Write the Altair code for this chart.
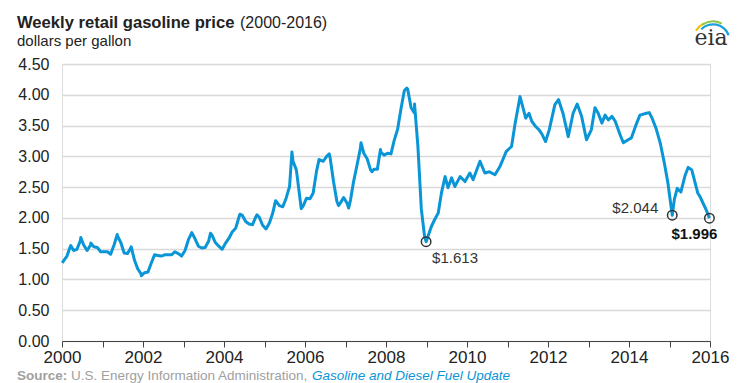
import altair as alt
import pandas as pd

# ---- data ----
# 2000-2008: mid-month readings plus weekly extremes
monthly = {
    2000: [1.30, 1.38, 1.53, 1.47, 1.49, 1.63, 1.56, 1.47, 1.56, 1.53, 1.52, 1.45],
    2001: [1.45, 1.45, 1.41, 1.56, 1.71, 1.60, 1.43, 1.42, 1.52, 1.32, 1.17, 1.09],
    2002: [1.11, 1.12, 1.26, 1.40, 1.39, 1.38, 1.40, 1.40, 1.40, 1.45, 1.42, 1.38],
    2003: [1.47, 1.65, 1.75, 1.66, 1.54, 1.51, 1.52, 1.62, 1.72, 1.60, 1.54, 1.49],
    2004: [1.59, 1.67, 1.77, 1.83, 2.01, 2.04, 1.94, 1.90, 1.89, 2.02, 2.01, 1.88],
    2005: [1.82, 1.92, 2.07, 2.27, 2.20, 2.18, 2.32, 2.51, 2.92, 2.78, 2.34, 2.19],
    2006: [2.32, 2.31, 2.40, 2.76, 2.94, 2.92, 3.00, 2.98, 2.59, 2.27, 2.24, 2.33],
    2007: [2.24, 2.29, 2.59, 2.86, 3.13, 3.05, 2.96, 2.78, 2.79, 2.79, 3.07, 3.02],
    2008: [3.05, 3.04, 3.26, 3.44, 3.77, 4.07, 4.09, 3.79, 3.70, 3.17, 2.15, 1.69],
}
extra_dates = [
    "2000-01-03", "2000-03-20", "2000-06-19", "2000-09-18", "2001-05-14",
    "2001-09-17", "2001-12-17", "2003-03-17", "2003-09-01", "2004-05-24",
    "2004-10-25", "2005-04-11", "2005-09-05", "2005-11-28", "2006-05-08",
    "2006-08-07", "2006-10-30", "2007-01-29", "2007-05-21", "2007-08-27",
    "2007-11-12", "2008-07-07", "2008-09-15", "2008-12-29",
]
extra_prices = [
    1.27, 1.55, 1.68, 1.59, 1.73,
    1.53, 1.06, 1.76, 1.75, 2.06,
    2.05, 2.28, 3.07, 2.15, 2.95,
    3.04, 2.20, 2.16, 3.22, 2.75,
    3.11, 4.11, 3.85, 1.613,
]
# 2009-2015: readings taken along the curve (decimal year, price)
late_t = [
    2009.12, 2009.20, 2009.29, 2009.37, 2009.46, 2009.53, 2009.62, 2009.70,
    2009.83, 2009.95, 2010.07, 2010.15, 2010.32, 2010.44, 2010.55, 2010.69,
    2010.81, 2010.97, 2011.10, 2011.19, 2011.31, 2011.45, 2011.53, 2011.60,
    2011.70, 2011.78, 2011.86, 2011.94, 2012.03, 2012.17, 2012.26, 2012.37,
    2012.50, 2012.62, 2012.72, 2012.83, 2012.95, 2013.07, 2013.16, 2013.24,
    2013.33, 2013.41, 2013.49, 2013.58, 2013.66, 2013.78, 2013.86, 2013.98,
    2014.06, 2014.19, 2014.27, 2014.43, 2014.50, 2014.57, 2014.67, 2014.77,
    2014.87, 2014.96, 2015.068, 2015.12, 2015.19, 2015.28, 2015.38, 2015.46,
    2015.55, 2015.62, 2015.70, 2015.75, 2015.82, 2015.90, 2015.986,
]
late_p = [
    1.86, 1.97, 2.08, 2.41, 2.67, 2.49, 2.65, 2.51,
    2.67, 2.59, 2.73, 2.62, 2.92, 2.73, 2.75, 2.70,
    2.83, 3.08, 3.16, 3.54, 3.97, 3.62, 3.70, 3.57,
    3.48, 3.43, 3.35, 3.24, 3.43, 3.84, 3.92, 3.70,
    3.32, 3.70, 3.85, 3.65, 3.27, 3.43, 3.79, 3.70,
    3.54, 3.67, 3.59, 3.65, 3.57, 3.35, 3.22, 3.27,
    3.30, 3.54, 3.67, 3.70, 3.71, 3.62, 3.45, 3.22,
    2.90, 2.57, 2.044, 2.30, 2.48, 2.42, 2.68, 2.82,
    2.78, 2.60, 2.40, 2.35, 2.25, 2.14, 1.996,
]
y_ticks = [0.0, 0.5, 1.0, 1.5, 2.0, 2.5, 3.0, 3.5, 4.0, 4.5]
x_ticks = list(range(2000, 2017))

# annotated points
ann_t = [2008.99, 2015.068, 2015.986]
ann_values = [1.613, 2.044, 1.996]
ann_labels = ["$1.613", "$2.044", "$1.996"]


def dec_year(ts):
    ts = pd.to_datetime(ts)
    days = 366 if ts.is_leap_year else 365
    return ts.year + (ts.dayofyear - 1) / days


# ---- build table ----
rows = []
for y, vals in monthly.items():
    for m, v in enumerate(vals, start=1):
        rows.append((dec_year(pd.Timestamp(year=y, month=m, day=15)), v))
for d, v in zip(extra_dates, extra_prices):
    rows.append((dec_year(d), v))
for t, v in zip(late_t, late_p):
    rows.append((t, v))
df = pd.DataFrame(rows, columns=["t", "price"]).sort_values("t")

ann = pd.DataFrame({"t": ann_t, "price": ann_values, "label": ann_labels})

FONT = "Liberation Sans"
BLUE = "#0a96d6"

xscale = alt.Scale(domain=[2000, 2016], nice=False, zero=False)
yscale = alt.Scale(domain=[0, 4.5], nice=False)

x_axis = alt.Axis(
    values=x_ticks, title=None, grid=False,
    labelExpr="datum.value % 2 == 0 ? format(datum.value, 'd') : ''",
    domainColor="#444", domainWidth=1, tickColor="#444", tickSize=6,
    labelPadding=2, labelFontSize=17, labelColor="#222", labelFont=FONT,
    labelFlush=False, labelOverlap=False)
y_axis = alt.Axis(
    values=y_ticks, format=".2f", title=None, domain=False, ticks=False,
    grid=True, gridColor="#d9d9d9", gridWidth=1.3, labelOverlap=False,
    labelPadding=13, labelFontSize=16, labelColor="#222", labelFont=FONT)


def xe():
    return alt.X("t:Q", scale=xscale, axis=x_axis)


def ye():
    return alt.Y("price:Q", scale=yscale, axis=y_axis)


line = alt.Chart(df).mark_line(color=BLUE, strokeWidth=3, strokeJoin="round").encode(
    x=xe(), y=ye())

circles = alt.Chart(ann).mark_point(shape="circle", size=90, filled=False,
                                    color="#333", strokeWidth=1.5, opacity=1).encode(
    x=xe(), y=ye())

lab1 = alt.Chart(ann.iloc[[0]]).mark_text(align="left", baseline="alphabetic", dx=6, dy=21,
                                          fontSize=15, font=FONT, color="#333").encode(
    x=xe(), y=ye(), text="label:N")
lab2 = alt.Chart(ann.iloc[[1]]).mark_text(align="right", baseline="alphabetic", dx=-14, dy=-2,
                                          fontSize=15, font=FONT, color="#333").encode(
    x=xe(), y=ye(), text="label:N")
lab3 = alt.Chart(ann.iloc[[2]]).mark_text(align="center", baseline="alphabetic", dx=-15, dy=21,
                                          fontSize=15, font=FONT, fontWeight="bold",
                                          color="#111").encode(
    x=xe(), y=ye(), text="label:N")


def txt(s, x, y, **kw):
    return alt.Chart(pd.DataFrame({"s": [s]})).mark_text(
        align="left", baseline="alphabetic", font=FONT, **kw).encode(
        x=alt.value(x), y=alt.value(y), text="s:N")


title = txt("Weekly retail gasoline price", -45, -36, fontSize=16.6, fontWeight="bold", color="#222")
title2 = txt("(2000-2016)", 178, -36, fontSize=16, color="#222")
subtitle = txt("dollars per gallon", -45, -18, fontSize=15, color="#222")
src1 = txt("Source:", -45, 316, fontSize=13.5, fontWeight="bold", color="#a0a0a0")
src2 = txt("U.S. Energy Information Administration,", 9, 316, fontSize=13.5, color="#a0a0a0")
src3 = txt("Gasoline and Diesel Fuel Update", 250, 316, fontSize=13.5, fontStyle="italic",
           color=BLUE)

logo_text = alt.Chart(pd.DataFrame({"s": ["eia"]})).mark_text(
    align="center", baseline="alphabetic", font="DejaVu Serif", fontSize=22, color="#333").encode(
    x=alt.value(649), y=alt.value(-19), text="s:N")


def arc(r1, r2, t1, t2, color):
    return alt.Chart(pd.DataFrame({"a": [0]})).mark_arc(
        radius=r2, radius2=r1, theta=t1, theta2=t2, color=color).encode(
        x=alt.value(651), y=alt.value(-23))


arc_y = arc(19, 21, 5.25, 5.8, "#f2c300")
arc_g = arc(18.5, 20.5, 5.7, 6.75, "#8cc63f")
arc_b = arc(15.5, 17.8, 5.5, 7.5, "#1aa0dc")

chart = alt.layer(
    line, circles, lab1, lab2, lab3,
    title, title2, subtitle, src1, src2, src3,
    logo_text, arc_y, arc_g, arc_b,
).properties(
    width=648, height=277,
    padding={"left": 54, "top": 56, "right": 36, "bottom": 42},
    autosize=alt.AutoSizeParams(type="none"),
).configure_view(stroke=None).configure(background="white")

chart.save("out.html", embed_options={"renderer": "svg", "actions": False})
